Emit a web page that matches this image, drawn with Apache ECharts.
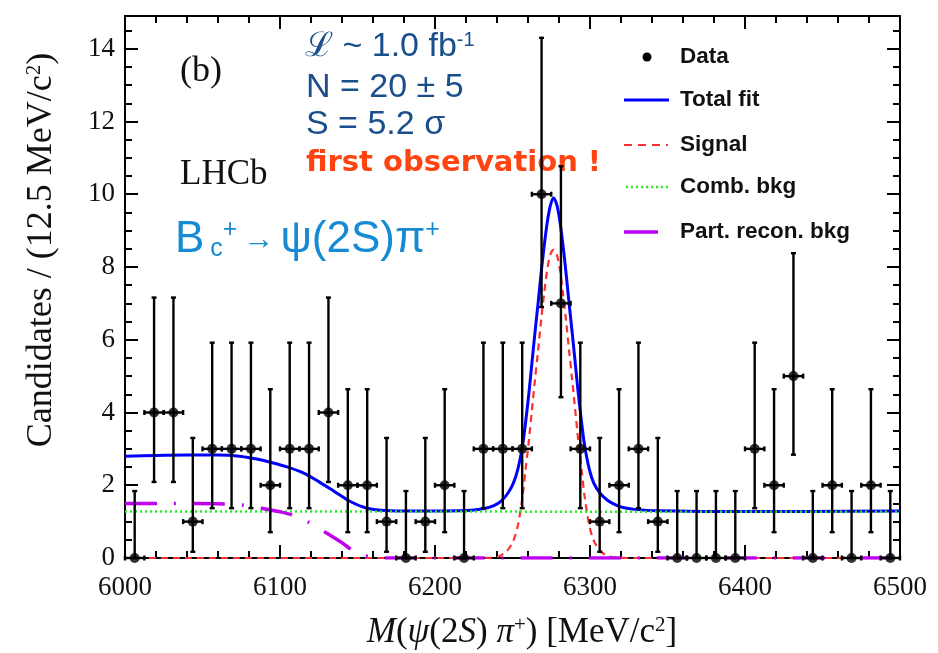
<!DOCTYPE html>
<html><head><meta charset="utf-8">
<script src="https://cdn.jsdelivr.net/npm/echarts@6/dist/echarts.min.js"></script>
<style>html,body{margin:0;padding:0;background:#fff}#c{width:938px;height:653px}</style>
</head><body><div id="c"></div>
<script>
// ---- data ----
const binCenters = [6006.25,6018.75,6031.25,6043.75,6056.25,6068.75,6081.25,6093.75,6106.25,6118.75,
  6131.25,6143.75,6156.25,6168.75,6181.25,6193.75,6206.25,6218.75,6231.25,6243.75,
  6256.25,6268.75,6281.25,6293.75,6306.25,6318.75,6331.25,6343.75,6356.25,6368.75,
  6381.25,6393.75,6406.25,6418.75,6431.25,6443.75,6456.25,6468.75,6481.25,6493.75];
const counts = [0,4,4,1,3,3,3,2,3,3,4,2,2,1,0,1,2,0,3,3,3,10,7,3,1,2,3,1,0,0,0,0,3,2,5,0,2,0,2,0];
const errLow = [0,2.09,2.09,0.17,1.37,1.37,1.37,0.71,1.37,1.37,2.09,0.71,0.71,0.17,0,0.17,0.71,0,1.37,1.37,
  1.37,6.90,4.42,1.37,0.17,0.71,1.37,0.17,0,0,0,0,1.37,0.71,2.84,0,0.71,0,0.71,0];
const errHigh = [1.84,7.16,7.16,3.30,5.92,5.92,5.92,4.64,5.92,5.92,7.16,4.64,4.64,3.30,1.84,3.30,4.64,1.84,5.92,5.92,
  5.92,14.30,10.77,5.92,3.30,4.64,5.92,3.30,1.84,1.84,1.84,1.84,5.92,4.64,8.38,1.84,4.64,1.84,4.64,1.84];
const binHalfWidth = 6.25;

const totalFit = [[6000,2.80],[6020,2.82],[6040,2.83],[6060,2.83],[6075,2.79],[6085,2.72],[6095,2.62],
  [6105,2.50],[6115,2.34],[6125,2.10],[6135,1.83],[6145,1.56],[6155,1.38],[6165,1.31],[6180,1.29],
  [6200,1.29],[6215,1.30],[6225,1.32],[6232,1.36],[6238,1.44],[6243,1.58],[6247,1.78],[6250.5,2.05],
  [6253.5,2.45],[6256.5,3.10],[6258.5,3.75],[6260.5,4.50],[6262.5,5.35],[6264.5,6.20],[6266.5,7.00],
  [6268.5,7.85],[6270.5,8.60],[6272.5,9.25],[6274.5,9.70],[6276.5,9.90],[6278.5,9.72],[6280.5,9.28],
  [6282.5,8.62],[6284.5,7.85],[6286.5,7.00],[6288.5,6.20],[6290.5,5.35],[6292.5,4.50],[6294.5,3.75],
  [6296.5,3.10],[6299.5,2.45],[6302.5,2.05],[6306.5,1.78],[6311.5,1.58],[6316.5,1.46],[6322,1.38],
  [6330,1.33],[6345,1.30],[6380,1.28],[6440,1.28],[6500,1.29]];
const signalCurve = [[6000,0],[6220,0],[6236.5,0.01],[6241.5,0.05],[6246.5,0.20],[6250.5,0.47],[6253.5,0.90],
  [6256.5,1.70],[6258.5,2.45],[6260.5,3.20],[6262.5,4.05],[6264.5,4.90],[6266.5,5.70],[6268.5,6.55],
  [6270.5,7.30],[6272.5,7.95],[6274.5,8.35],[6276.5,8.47],[6278.5,8.35],[6280.5,7.95],[6282.5,7.30],
  [6284.5,6.55],[6286.5,5.70],[6288.5,4.90],[6290.5,4.05],[6292.5,3.20],[6294.5,2.45],[6296.5,1.70],
  [6299.5,0.90],[6302.5,0.47],[6306.5,0.20],[6311.5,0.05],[6316.5,0.01],[6330,0],[6500,0]];
const combBkg = [[6000,1.28],[6500,1.27]];
const partRecoBkg = [[6000,1.50],[6030,1.50],[6060,1.49],[6075,1.46],[6088,1.37],[6100,1.27],[6108,1.18],
  [6119,0.97],[6130,0.69],[6140,0.42],[6147,0.20],[6153,0.08],[6160,0.02],[6170,0],[6500,0]];

const legendNames = ['Data','Total fit','Signal','Comb. bkg','Part. recon. bkg'];
const xRange = [6000, 6500], xStep = 100, xMinorStep = 20;
const yRange = [0, 14.9], yStep = 2, yMinorStep = 0.5;

// ---- styles ----
const C_TOTAL = '#0000ff', C_SIG = '#ff3030', C_COMB = '#22ee22', C_PART = '#c000f0';
const DASH_SIG = [7,5], DASH_COMB = [2,3], DASH_PART = [32,17,2,17];
const SERIF = '"Liberation Serif","Times New Roman",serif';
const SANS = '"Liberation Sans",Arial,sans-serif';
const DSANS = '"DejaVu Sans",sans-serif';

const chart = echarts.init(document.getElementById('c'), null, {renderer:'canvas'});

const frameLine = {show:true, onZero:false, lineStyle:{color:'#000', width:2}};
function xAx(pos, step, len, labels) {
  return {type:'value', position:pos, offset:0, min:xRange[0], max:xRange[1], interval:step,
    axisLine:frameLine, splitLine:{show:false},
    axisTick:{show:true, inside:true, length:len, lineStyle:{color:'#000', width:2}},
    axisLabel:{show:labels, fontFamily:SERIF, fontSize:27, color:'#111', margin:16, formatter:v => String(v)}};
}
function yAx(pos, step, len, labels) {
  return {type:'value', position:pos, offset:0, min:yRange[0], max:yRange[1], interval:step,
    axisLine:frameLine, splitLine:{show:false},
    axisTick:{show:true, inside:true, length:len, lineStyle:{color:'#000', width:2}},
    axisLabel:{show:labels, showMaxLabel:false, fontFamily:SERIF, fontSize:27, color:'#111', margin:10}};
}

const xTitle = {
  type:'text', x:522, y:633,
  style:{text:'{it|M}({it|ψ}(2{it|S}) {it|π}{sup|+}) [MeV/c{sup|2}]', align:'center', verticalAlign:'middle',
    font:'35px '+SERIF, fill:'#111',
    rich:{it:{fontStyle:'italic', fontFamily:SERIF, fontSize:35}, sup:{fontFamily:SERIF, fontSize:21, verticalAlign:'top', padding:[0,0,15,0]}}}
};
const yTitle = {
  type:'text', x:42, y:250, rotation:Math.PI/2,
  style:{text:'Candidates / (12.5 MeV/c{sup|2})', align:'center', verticalAlign:'middle',
    font:'36px '+SERIF, fill:'#111',
    rich:{sup:{fontFamily:SERIF, fontSize:21, verticalAlign:'top', padding:[0,0,14,0]}}}
};

const infoColor = '#1a4f8c';
const annotations = [
  {type:'text', x:180, y:72, style:{text:'(b)', font:'36px '+SERIF, fill:'#111', verticalAlign:'middle'}},
  {type:'text', x:180, y:175, style:{text:'LHCb', font:'35px '+SERIF, fill:'#111', verticalAlign:'middle'}},
  {type:'text', x:175, y:240, style:{text:'B{sub|c}{sup|+}{arr|→}ψ(2S)π{sup|+}', font:'44px '+SANS, fill:'#168ad4', verticalAlign:'middle',
    rich:{sub:{fontSize:25, fontFamily:SANS, verticalAlign:'bottom', padding:[16,0,0,6]},
          sup:{fontSize:25, fontFamily:SANS, verticalAlign:'top', padding:[0,2,16,0]},
          arr:{fontSize:31, fontFamily:SANS, padding:[0,6,0,4]}}}},
  {type:'text', x:305, y:47, style:{text:'ℒ ~ 1.0 fb{sup|-1}', font:'34px '+SANS, fill:infoColor, verticalAlign:'middle',
    rich:{sup:{fontSize:20, fontFamily:SANS, verticalAlign:'top', padding:[0,0,13,0]}}}},
  {type:'text', x:306, y:88, style:{text:'N = 20 ± 5', font:'34px '+SANS, fill:infoColor, verticalAlign:'middle'}},
  {type:'text', x:306, y:125, style:{text:'S = 5.2 σ', font:'34px '+SANS, fill:infoColor, verticalAlign:'middle'}},
  {type:'text', x:306, y:163, style:{text:'first observation !', font:'bold 29px '+DSANS, fill:'#ff4412', verticalAlign:'middle'}}
];

const legendY = [57, 100, 145, 187, 232];
const legendItems = [
  {type:'circle', shape:{cx:647, cy:legendY[0], r:4.5}, style:{fill:'#000'}},
  {type:'line', shape:{x1:624, y1:legendY[1], x2:669, y2:legendY[1]}, style:{stroke:C_TOTAL, lineWidth:3}},
  {type:'line', shape:{x1:624, y1:legendY[2], x2:668, y2:legendY[2]}, style:{stroke:C_SIG, lineWidth:2.2, lineDash:[8,6]}},
  {type:'line', shape:{x1:626, y1:legendY[3], x2:668, y2:legendY[3]}, style:{stroke:C_COMB, lineWidth:2.5, lineDash:DASH_COMB}},
  {type:'line', shape:{x1:624, y1:legendY[4], x2:658, y2:legendY[4]}, style:{stroke:C_PART, lineWidth:3.5}}
].concat(legendNames.map((n, i) => ({type:'text', x:680, y:legendY[i],
  style:{text:n, font:'bold 22.5px '+SANS, fill:'#111', verticalAlign:'middle'}})));

const dataRows = binCenters.map((x, i) => [x, counts[i], errLow[i], errHigh[i]]);

function renderErr(params, api) {
  const x = api.value(0), y = api.value(1), lo = api.value(2), hi = api.value(3);
  const pL = api.coord([x - binHalfWidth, y]), pR = api.coord([x + binHalfWidth, y]);
  const pLo = api.coord([x, lo]), pHi = api.coord([x, hi]);
  const st = {stroke:'#000', lineWidth:2.4};
  const c = 2.5;
  const ln = (x1,y1,x2,y2) => ({type:'line', shape:{x1,y1,x2,y2}, style:st});
  return {type:'group', children:[
    ln(pLo[0], pLo[1], pHi[0], pHi[1]),
    ln(pHi[0]-c, pHi[1], pHi[0]+c, pHi[1]),
    ln(pLo[0]-c, pLo[1], pLo[0]+c, pLo[1]),
    ln(pL[0], pL[1], pR[0], pR[1]),
    ln(pL[0], pL[1]-c, pL[0], pL[1]+c),
    ln(pR[0], pR[1]-c, pR[0], pR[1]+c)
  ]};
}

chart.setOption({
  animation:false,
  backgroundColor:'#fff',
  grid:{left:125, right:38, top:16, bottom:95, containLabel:false},
  xAxis:[xAx('bottom', xStep, 13, true), xAx('bottom', xMinorStep, 7, false),
         xAx('top', xStep, 13, false), xAx('top', xMinorStep, 7, false)],
  yAxis:[yAx('left', yStep, 13, true), yAx('left', yMinorStep, 7, false),
         yAx('right', yStep, 13, false), yAx('right', yMinorStep, 7, false)],
  series:[
    {type:'line', name:'Total fit', data:totalFit, showSymbol:false, smooth:0.3, z:3,
      lineStyle:{color:C_TOTAL, width:3}},
    {type:'line', name:'Signal', data:signalCurve, showSymbol:false, smooth:0.3, z:4,
      lineStyle:{color:C_SIG, width:2.2, type:DASH_SIG}},
    {type:'line', name:'Comb. bkg', data:combBkg, showSymbol:false, z:5,
      lineStyle:{color:C_COMB, width:2.5, type:DASH_COMB}},
    {type:'line', name:'Part. recon. bkg', data:partRecoBkg, showSymbol:false, smooth:0.3, z:5,
      lineStyle:{color:C_PART, width:3.5, type:DASH_PART}},
    {type:'custom', name:'errors', data:dataRows, renderItem:renderErr, encode:{x:0, y:1}, z:8, clip:false},
    {type:'scatter', name:'Data', data:dataRows.map(r => [r[0], r[1]]), symbol:'circle', symbolSize:10,
      itemStyle:{color:'#000'}, z:9, clip:false}
  ],
  graphic:[xTitle, yTitle].concat(annotations, legendItems)
});
</script></body></html>
